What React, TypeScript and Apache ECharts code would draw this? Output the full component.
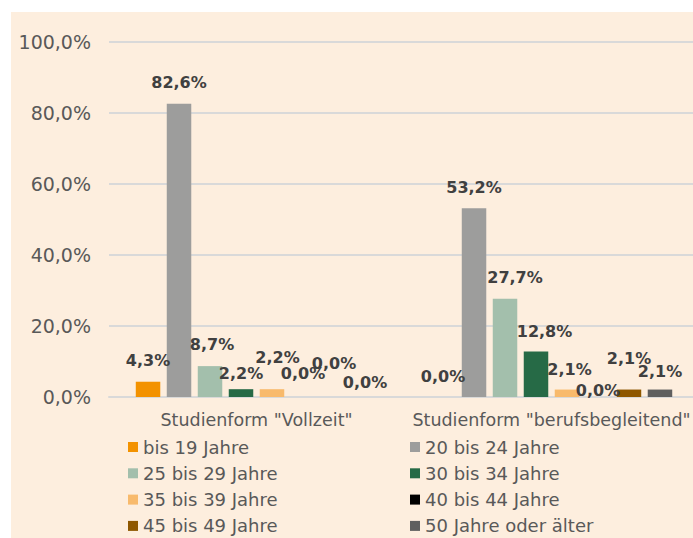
import { useEffect, useRef } from "react";
import * as echarts from "echarts";

const categories = ['Studienform "Vollzeit"', 'Studienform "berufsbegleitend"'];
const ageGroups = [
  "bis 19 Jahre",
  "20 bis 24 Jahre",
  "25 bis 29 Jahre",
  "30 bis 34 Jahre",
  "35 bis 39 Jahre",
  "40 bis 44 Jahre",
  "45 bis 49 Jahre",
  "50 Jahre oder älter",
];
const vollzeitValues = [4.3, 82.6, 8.7, 2.2, 2.2, 0.0, 0.0, 0.0];
const berufsbegleitendValues = [0.0, 53.2, 27.7, 12.8, 2.1, 0.0, 2.1, 2.1];
const seriesColors = ["#F39200", "#9D9D9C", "#A3BFAC", "#266A46", "#F8BA6C", "#000000", "#8E5700", "#5F5F5F"];
const yMin = 0;
const yMax = 100;
const yInterval = 20;

// label nudges [dx, dy] per age group: [Vollzeit, berufsbegleitend]
const labelNudges: number[][][] = [
  [[0, 0], [0, 0]],
  [[0, 0], [0, 0]],
  [[2, -1], [10, 0]],
  [[0, 5.5], [8.5, 1]],
  [[5.5, -11], [2.5, 1]],
  [[0, -2.5], [0, 14]],
  [[0, -12.5], [0, -10]],
  [[0, 6.5], [0, 3]],
];

const FONT = "DejaVu Sans";
const fmt = (v: number) => v.toFixed(1).replace(".", ",") + "%";

export default function App() {
  const ref = useRef<HTMLDivElement>(null);
  useEffect(() => {
    if (!ref.current) return;
    const chart = echarts.init(ref.current, undefined, { renderer: "svg" });
    const legendCommon = {
      orient: "vertical" as const,
      top: 437,
      itemWidth: 10,
      itemHeight: 10,
      itemGap: 6.3,
      icon: "rect",
      selectedMode: false,
      padding: 0,
      textStyle: { fontFamily: FONT, fontSize: 18, color: "#595959", lineHeight: 20 },
    };
    chart.setOption({
      animation: false,
      graphic: [
        {
          type: "rect",
          z: -100,
          silent: true,
          shape: { x: 11, y: 12, width: 682, height: 526 },
          style: { fill: "#FDEEDE" },
        },
      ],
      grid: { left: 109, top: 42, width: 590, height: 355, outerBoundsMode: "none" },
      legend: [
        { ...legendCommon, left: 128, data: ageGroups.filter((_, i) => i % 2 === 0) },
        { ...legendCommon, left: 410, data: ageGroups.filter((_, i) => i % 2 === 1) },
      ],
      xAxis: {
        type: "category",
        data: categories,
        axisTick: { show: false },
        axisLine: { lineStyle: { color: "#D9D9D9", width: 2 } },
        axisLabel: { interval: 0, hideOverlap: false, fontFamily: FONT, fontSize: 17.5, color: "#595959", margin: 14 },
      },
      yAxis: {
        type: "value",
        min: yMin,
        max: yMax,
        interval: yInterval,
        axisLine: { show: false },
        axisTick: { show: false },
        axisLabel: { fontFamily: FONT, fontSize: 19, color: "#595959", margin: 18, formatter: (v: number) => fmt(v) },
        splitLine: { lineStyle: { color: "#D9D9D9", width: 2 } },
      },
      series: ageGroups.map((name, i) => ({
        name,
        type: "bar",
        barWidth: 24.5,
        barGap: "26.5%",
        itemStyle: { color: seriesColors[i] },
        label: {
          show: true,
          position: "top",
          distance: 13,
          fontFamily: FONT,
          fontSize: 16,
          fontWeight: "bold",
          color: "#404040",
          formatter: (p: any) => fmt(p.value),
        },
        data: [vollzeitValues[i], berufsbegleitendValues[i]].map((v, c) => ({
          value: v,
          label: { offset: labelNudges[i][c] },
        })),
      })),
    });
    return () => chart.dispose();
  }, []);
  return <div ref={ref} style={{ position: "absolute", left: 0, top: 0, width: 693, height: 538 }} />;
}
